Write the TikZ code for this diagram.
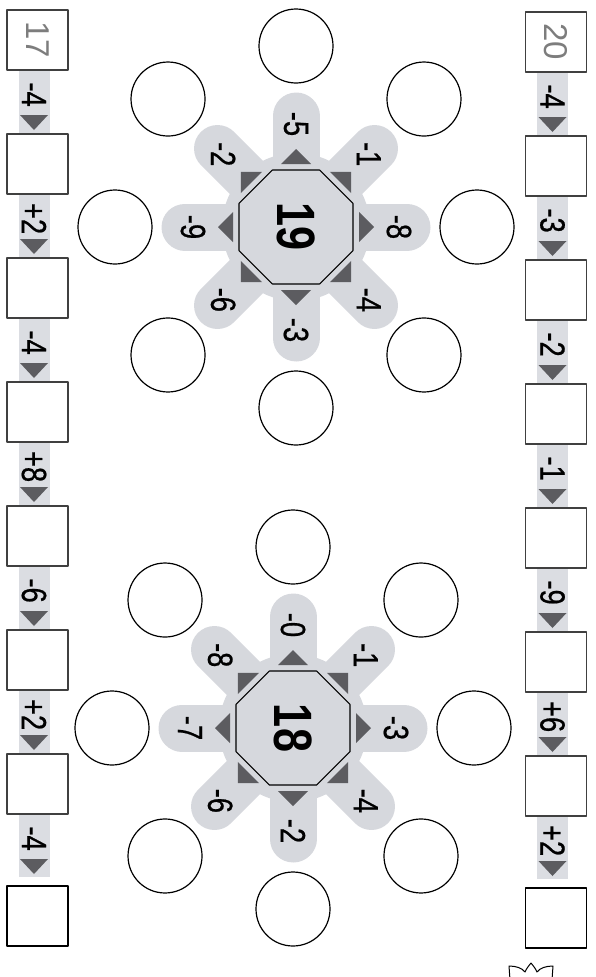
\documentclass[tikz,border=0pt]{standalone}
\usepackage{fontspec}
\newfontfamily\numfont[FakeStretch=0.78, FakeBold=0.6]{Liberation Sans}
\newfontfamily\boldnumfont[FakeStretch=0.8]{Liberation Sans Bold}
\newfontfamily\startfont{Liberation Sans}
\usetikzlibrary{calc,shapes.geometric}

\begin{document}
\begin{tikzpicture}[x=1pt, y=1pt, line join=round]

    % --- Colors of the worksheet ---
    \definecolor{petalgray}{RGB}{214, 216, 221}
    \definecolor{stripgray}{RGB}{219, 221, 226}
    \definecolor{tipgray}{RGB}{92, 92, 96}
    \definecolor{startgray}{RGB}{125, 125, 125}

    \tikzset{
        numbox/.style={draw=black!75, line width=1.2pt, fill=white, minimum width=61pt, minimum height=60pt, inner sep=0pt},
        oplabel/.style={font=\numfont\fontsize{35}{35}\selectfont, rotate=-90, inner sep=0pt},
        startnum/.style={font=\startfont\fontsize{33}{33}\selectfont, text=startgray, rotate=-90},
        hole/.style={draw, line width=1.2pt, circle, minimum size=74pt, inner sep=0pt},
        octa/.style={draw, line width=1.1pt, fill=petalgray, regular polygon, regular polygon sides=8, minimum size=123.4pt, inner sep=0pt},
        petal/.style={petalgray, line width=47pt, line cap=round},
    }

    \useasboundingbox (0,0) rectangle (595,-977);

    % --- Coordinates ---
    \coordinate (fA) at (296, -227);
    \coordinate (fB) at (293, -728);

    % --- 1. Chains of boxes ---
    \foreach \i in {1,...,7} {
        \coordinate (cL\i) at (37.5, {-40-124*(\i-1)});
        \coordinate (cR\i) at (556, {-42-124*(\i-1)});
    }
    \coordinate (cL8) at (37.5, -916);
    \coordinate (cR8) at (556, -918);

    % strips under the operations
    \foreach \s in {L, R} {
        \foreach \i in {1,...,7} {
            \fill[stripgray] ($(c\s\i)+(-19,-30)$) rectangle ($(c\s\i)+(12,-93)$);
            \fill[tipgray] ($(c\s\i)+(-17.5,-75)$) -- ($(c\s\i)+(10.5,-75)$) -- ($(c\s\i)+(-3.5,-90)$) -- cycle;
        }
    }

    \foreach \s in {L, R} {
        \foreach \i in {1,...,7} {
            \node[numbox] (box\s\i) at (c\s\i) {};
        }
        \node[numbox, draw=black, line width=1.4pt] (box\s8) at (c\s8) {};
    }

    \node[startnum] (startL) at (boxL1) {17};
    \node[startnum] (startR) at (boxR1) {20};

    % operations
    \foreach \i/\t in {1/-4, 2/+2, 3/-4, 4/+8, 5/-6, 6/+2, 7/-4} {
        \node[oplabel] (opL\i) at ($(boxL\i.south)+(-3.5,-24)$) {\t};
    }
    \foreach \i/\t in {1/-4, 2/-3, 3/-2, 4/-1, 5/-9, 6/+6, 7/+2} {
        \node[oplabel] (opR\i) at ($(boxR\i.south)+(-3.5,-24)$) {\t};
    }

    % --- 2. Flowers ---
    \foreach \f in {fA, fB} {
        \foreach \a in {0,45,...,315} {
            \draw[petal] (\f) -- ($(\f)+(\a:111)$);
        }
        \fill[petalgray] (\f) circle (74);
        \foreach \a in {0,45,...,315} {
            \fill[tipgray] ($(\f)+(\a:63)+(\a+90:15)$) -- ($(\f)+(\a:78)$) -- ($(\f)+(\a:63)+(\a-90:15)$) -- cycle;
        }
        \foreach \a [count=\k] in {0,45,...,315} {
            \node[hole] (hole\f\k) at ($(\f)+(\a:181)$) {};
        }
    }

    \node[octa] (octA) at (fA) {};
    \node[octa] (octB) at (fB) {};
    \node[font=\boldnumfont\fontsize{54}{54}\selectfont, rotate=-90] (numA) at (octA) {19};
    \node[font=\boldnumfont\fontsize{54}{54}\selectfont, rotate=-90] (numB) at (octB) {18};

    % petal labels
    \foreach \a/\t [count=\k] in {90/-5, 45/-1, 0/-8, -45/-4, -90/-3, -135/-6, 180/-9, 135/-2} {
        \node[oplabel] (pA\k) at ($(fA)+(\a:103)$) {\t};
    }
    \foreach \a/\t [count=\k] in {90/-0, 45/-1, 0/-3, -45/-4, -90/-2, -135/-6, 180/-7, 135/-8} {
        \node[oplabel] (pB\k) at ($(fB)+(\a:103)$) {\t};
    }

    % --- 3. Lotus mark ---
    \draw[line width=1pt] (510, -980) -- (509, -966) .. controls (516, -966) and (522, -968) .. (525, -972)
        .. controls (527, -968) .. (531, -963) .. controls (535, -968) .. (537, -972)
        .. controls (540, -968) and (546, -966) .. (553, -966) -- (552, -980);

\end{tikzpicture}
\end{document}
